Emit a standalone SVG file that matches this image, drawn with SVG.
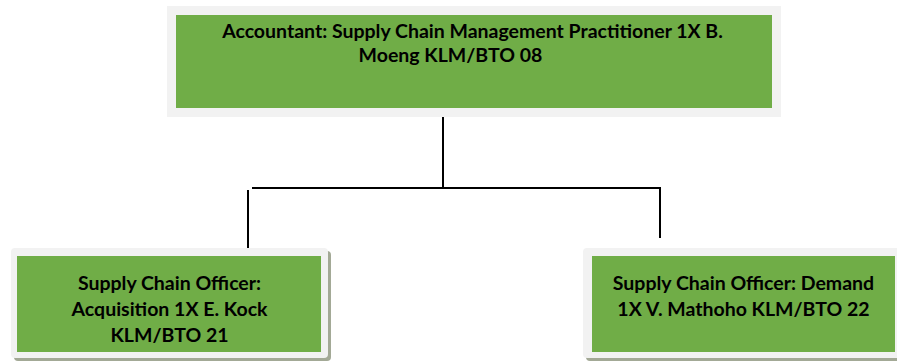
<svg xmlns="http://www.w3.org/2000/svg" width="897" height="362" viewBox="0 0 897 362">
<style>
.frame{fill:#f2f2f2}
.shadow{fill:#a3a996}
.box{fill:#70ad47}
.t{font-family:Lato,"Open Sans","Liberation Sans",sans-serif;font-weight:bold;font-size:19.5px;fill:#000;text-anchor:middle}
.c{stroke:#000;stroke-width:2;fill:none}
</style>
<rect width="897" height="362" fill="#fff"/>
<g id="connectors">
<line class="c" x1="443" y1="116" x2="443" y2="188"/>
<line class="c" x1="252" y1="188" x2="661" y2="188"/>
<line class="c" x1="248" y1="190" x2="248" y2="251"/>
<line class="c" x1="660" y1="188" x2="660" y2="238"/>
</g>
<g id="node-accountant">
<rect class="frame" x="167" y="6" width="614" height="111"/>
<rect class="box" x="176" y="15" width="596" height="93"/>
<text class="t" x="472.5" y="38">Accountant: Supply Chain Management Practitioner 1X B.</text>
<text class="t" x="450.5" y="62">Moeng KLM/BTO 08</text>
</g>
<g id="node-acquisition">
<rect class="shadow" x="14" y="251" width="317" height="110" rx="4"/>
<rect class="frame" x="11" y="248" width="317" height="110" rx="4"/>
<rect class="box" x="17" y="256" width="304" height="96"/>
<text class="t" x="169.5" y="290">Supply Chain Officer:</text>
<text class="t" x="169.5" y="316">Acquisition 1X E. Kock</text>
<text class="t" x="169.5" y="342">KLM/BTO 21</text>
</g>
<g id="node-demand">
<rect class="shadow" x="586" y="251" width="320" height="110" rx="4"/>
<rect class="frame" x="583" y="248" width="320" height="110" rx="4"/>
<rect class="box" x="592" y="256" width="303" height="96"/>
<text class="t" x="743.5" y="290">Supply Chain Officer: Demand</text>
<text class="t" x="743.5" y="316">1X V. Mathoho KLM/BTO 22</text>
</g>
</svg>
